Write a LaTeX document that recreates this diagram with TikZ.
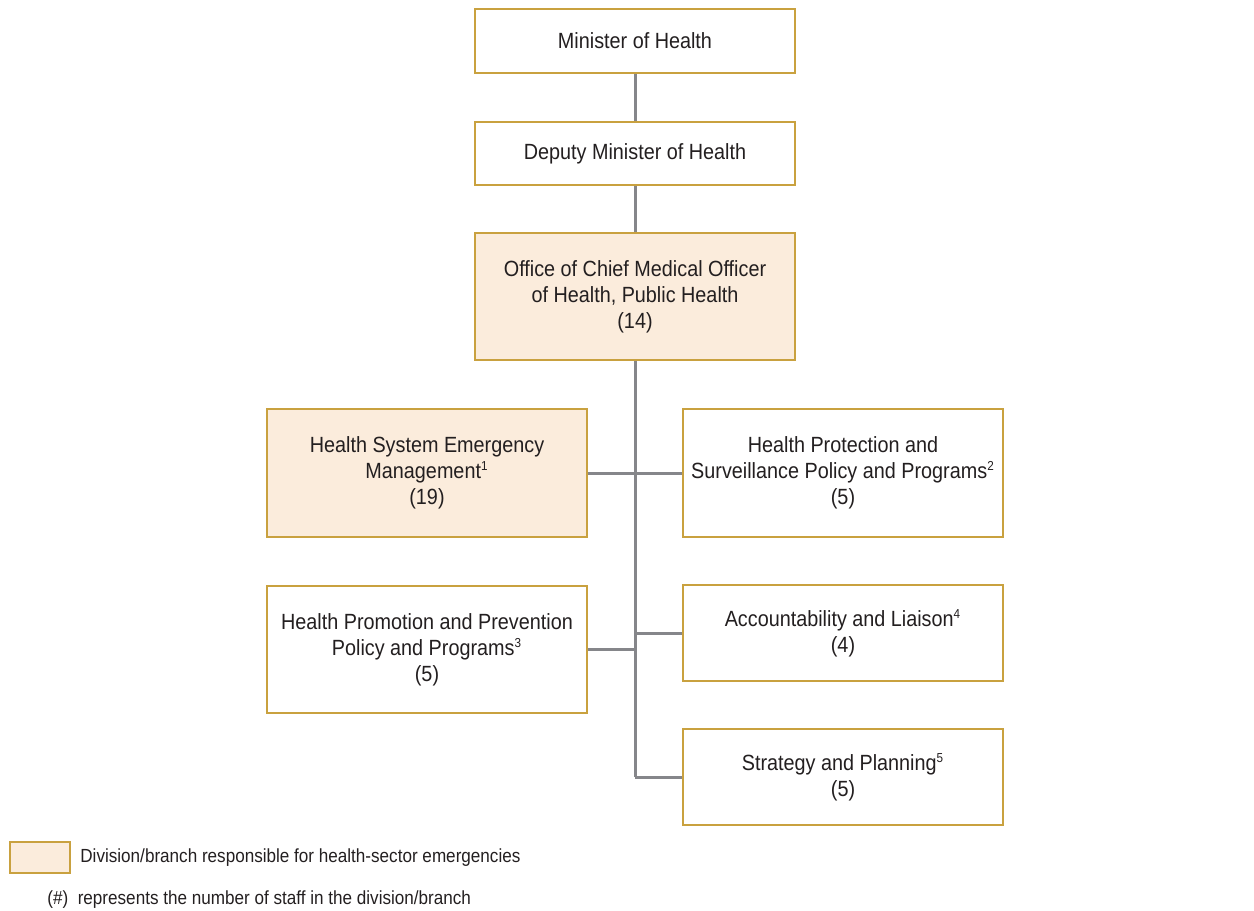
\documentclass[tikz,border=0pt]{standalone}
\usepackage{fontspec}
\setmainfont{Liberation Sans}[FakeStretch=0.9]
\usetikzlibrary{positioning}

\definecolor{boxline}{HTML}{C9A13F}
\definecolor{emerg}{HTML}{FBECDC}
\definecolor{linkgray}{HTML}{85868A}
\definecolor{ink}{HTML}{231F20}

\newcommand{\fnmark}[1]{\textsuperscript{\fontsize{6.5}{7}\selectfont #1}}

\tikzset{
    unit/.style={draw=boxline,line width=0.8pt,fill=white,text=ink,
        minimum width=160pt,align=center,font=\fontsize{11}{13}\selectfont,
        inner sep=2pt},
    emunit/.style={unit,fill=emerg},
    link/.style={draw=linkgray,line width=1.5pt},
    note/.style={text=ink,font=\fontsize{9.5}{11}\selectfont,inner sep=0pt}
}

\begin{document}
\begin{tikzpicture}[x=0.5pt,y=-0.5pt]
    \useasboundingbox (0,0) rectangle (1254,911);

    % top of the chain
    \node[unit,minimum height=32pt] (min) at (635,41) {Minister of Health};
    \node[unit,minimum height=31.5pt] (dep) at (635,153.5) {Deputy Minister of Health};
    \node[emunit,minimum height=63.5pt] (cmo) at (635,296.5)
        {Office of Chief Medical Officer\\of Health, Public Health\\(14)};

    % branches
    \node[emunit,minimum height=64pt] (hsem) at (427,473)
        {Health System Emergency\\Management\fnmark{1}\\(19)};
    \node[unit,minimum height=64pt] (hps) at (843,473)
        {Health Protection and\\Surveillance Policy and Programs\fnmark{2}\\(5)};
    \node[unit,minimum height=63.5pt] (hpp) at (427,649.5)
        {Health Promotion and Prevention\\Policy and Programs\fnmark{3}\\(5)};
    \node[unit,minimum height=48pt] (acc) at (843,633)
        {Accountability and Liaison\fnmark{4}\\(4)};
    \node[unit,minimum height=48pt] (stp) at (843,777)
        {Strategy and Planning\fnmark{5}\\(5)};

    \coordinate (trunk) at (635,777);

    \draw[link] (min) -- (dep);
    \draw[link] (dep) -- (cmo);
    \draw[link] (cmo.south) -- (trunk);
    \draw[link] (hsem.east) -- (hps.west);
    \draw[link] (hpp.east) -- (hpp.east -| trunk);
    \draw[link] (acc.west -| trunk) -- (acc.west);
    \draw[link] (trunk) -- (stp.west);

    % legend
    \node[draw=boxline,line width=0.8pt,fill=emerg,minimum width=30pt,
        minimum height=15.5pt,inner sep=0pt] (key) at (40,857.5) {};
    \node[note,anchor=west] (keytext) at (80,858)
        {Division/branch responsible for health-sector emergencies};
    \node[note,anchor=west] (staff) at (47,900)
        {(\#)\ \ represents the number of staff in the division/branch};
\end{tikzpicture}
\end{document}
